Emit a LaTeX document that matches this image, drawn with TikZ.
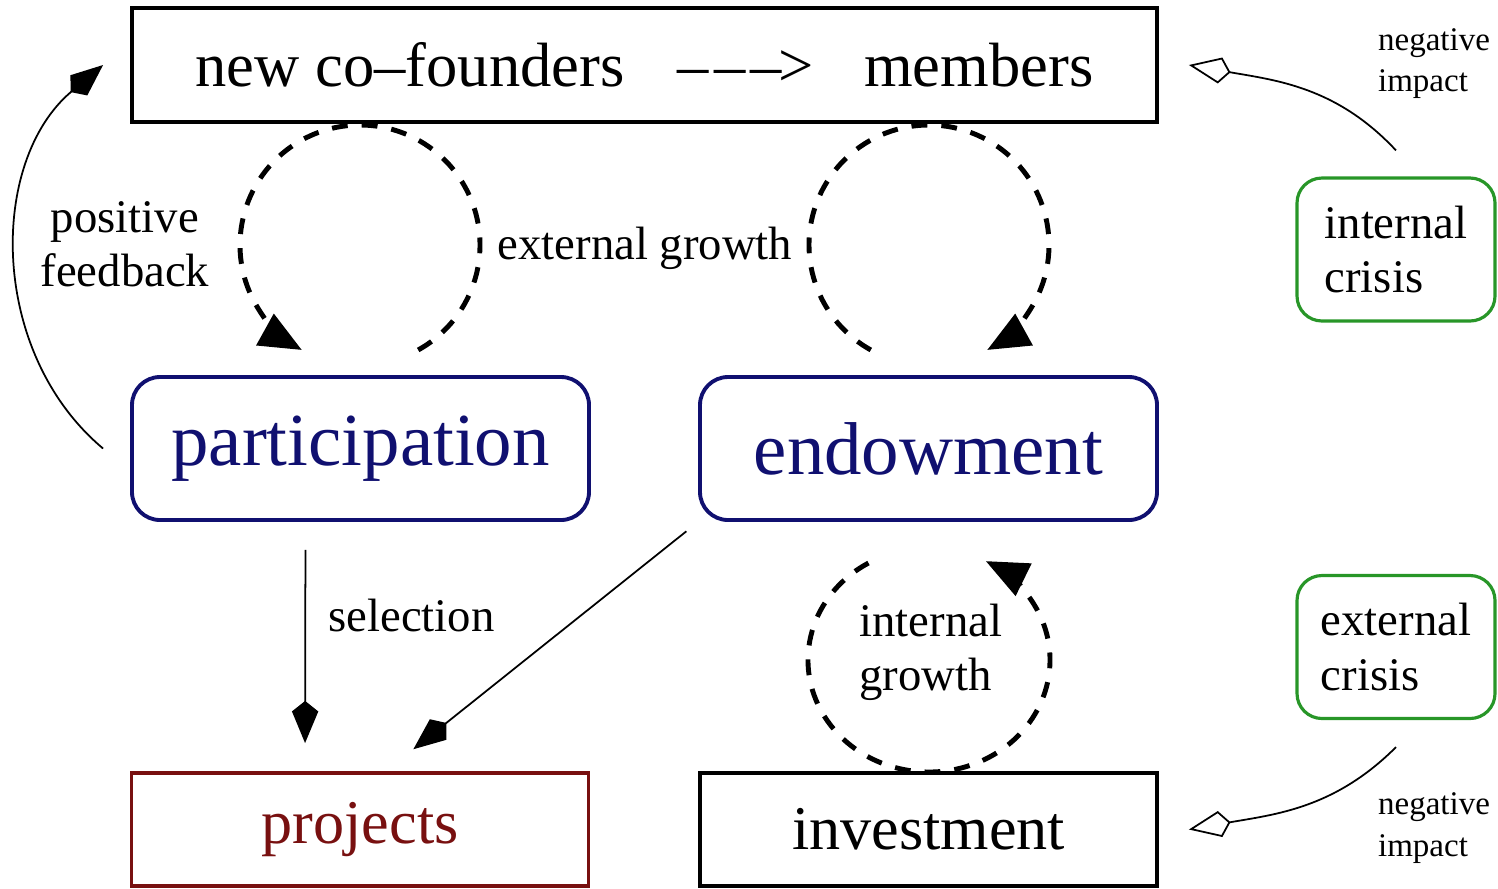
\documentclass[tikz,border=0pt]{standalone}
\usepackage{fontspec}
\setmainfont{Liberation Serif}
\usetikzlibrary{arrows.meta}
\definecolor{boxblue}{RGB}{16,16,112}
\definecolor{boxred}{RGB}{120,16,16}
\definecolor{boxgreen}{RGB}{40,150,40}
\tikzset{block/.style={draw, line width=1.1pt, minimum width=4.57cm, minimum height=1.13cm, inner sep=0pt, font=\fontsize{17.7}{20}\selectfont},
  roundblock/.style={block, draw=boxblue, text=boxblue, rounded corners=0.28cm, minimum height=1.43cm, font=\fontsize{21.3}{24}\selectfont},
  crisis/.style={draw=boxgreen, line width=0.9pt, rounded corners=0.25cm, minimum width=1.98cm, minimum height=1.43cm, align=left, font=\fontsize{13.3}{15.4}\selectfont},
  lbl/.style={align=left, font=\fontsize{13.3}{15.4}\selectfont},
  note/.style={align=left, font=\fontsize{9.4}{11.7}\selectfont},
  line/.style={line width=0.5pt, -{Kite[length=12pt,width=7.5pt,inset=3pt]}},
  neg/.style={line width=0.5pt, -{Kite[open,length=12pt,width=7.5pt,inset=3pt]}},
  growth/.style={line width=1.4pt, dash pattern=on 4.5pt off 4pt, -{Triangle[length=12pt,width=10pt]}}}

\begin{document}
\begin{tikzpicture}
    \useasboundingbox (0,0) rectangle (14.98,-8.88);

    \node[block, minimum width=10.25cm, minimum height=1.14cm, font=\fontsize{17.8}{20}\selectfont] (top) at (6.445,-0.65)
        {new co\textendash founders\hspace{0.85em}\textendash\kern1.5pt\textendash\kern1.5pt\textendash\kern-1pt>\hspace{0.8em}members};
    \node[roundblock]                      (part)    at (3.605,-4.485) {participation};
    \node[roundblock]                      (endow)   at (9.285,-4.485) {endowment};
    \node[block, draw=boxred, text=boxred] (proj)    at (3.60,-8.295)  {projects};
    \node[block]                           (invest)  at (9.285,-8.295) {investment};
    \node[crisis]                          (icrisis) at (13.96,-2.495) {internal\\crisis};
    \node[crisis]                          (ecrisis) at (13.96,-6.47)  {external\\crisis};

    \node[note]               (nimp1) at (14.34,-0.64) {negative\\impact};
    \node[note]               (nimp2) at (14.34,-8.28) {negative\\impact};
    \node[lbl, align=center]  (pfb)   at (1.25,-2.44)  {positive\\feedback};
    \node[lbl]                (eg)    at (6.45,-2.48)  {external growth};
    \node[lbl]                (ig)    at (9.31,-6.52)  {internal\\growth};
    \node[lbl, anchor=west]   (sel)   at (3.16,-6.15)  {selection};

    \coordinate (lc) at (3.60,-2.45);
    \coordinate (rc) at (9.29,-2.45);
    \coordinate (bc) at (9.29,-6.60);

    \draw[growth] ([shift={(-61:1.2)}]lc) arc[start angle=-61, end angle=241, radius=1.2];
    \draw[growth] ([shift={(241:1.2)}]rc) arc[start angle=241, end angle=-61, radius=1.2];
    \draw[growth] ([shift={(120:1.21 and 1.12)}]bc) arc[start angle=120, end angle=422, x radius=1.21, y radius=1.12];

    \draw[line, shorten <=0.28cm, shorten >=0.28cm] ([xshift=-0.55cm]part.south) -- ([xshift=-0.55cm]proj.north);
    \draw[line, shorten <=0.15cm, shorten >=0.35cm] (endow.south west) -- ([xshift=0.26cm]proj.north);
    \draw[line] ([xshift=-0.27cm]part.west) to[out=140, in=220] ([xshift=-0.27cm]top.west);
    \draw[neg]  ([yshift=0.26cm]icrisis.north) to[out=133, in=-10] ([xshift=0.3cm]top.east);
    \draw[neg]  ([yshift=-0.27cm]ecrisis.south) to[out=225, in=10] ([xshift=0.3cm]invest.east);
\end{tikzpicture}
\end{document}
